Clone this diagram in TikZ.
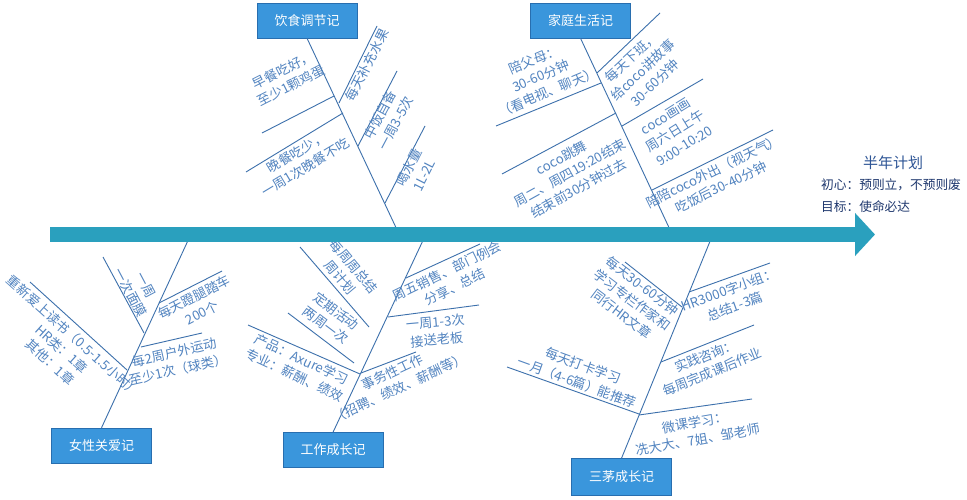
\documentclass[tikz,border=0pt]{standalone}
\usepackage{fontspec}
\setmainfont{Noto Sans CJK SC}
\usepackage{xcolor}
\usepackage{tikz}
\usetikzlibrary{arrows.meta}

\definecolor{boxblue}{RGB}{58,150,220}
\definecolor{boxedge}{RGB}{40,110,175}
\definecolor{bonecol}{RGB}{60,112,172}
\definecolor{lblcol}{RGB}{82,132,192}
\definecolor{spinecol}{RGB}{42,160,190}
\definecolor{navy}{RGB}{31,56,110}
\definecolor{titlecol}{RGB}{46,85,150}

\tikzset{
  box/.style={draw=boxedge, fill=boxblue, text=white, minimum width=100pt,
    minimum height=35pt, inner sep=0pt, font=\fontsize{13}{15}\selectfont},
  bone/.style={draw=bonecol, line width=0.9pt},
  twig/.style={draw=bonecol, line width=0.9pt},
  lbl/.style={text=lblcol, align=center, inner sep=0pt, font=\fontsize{13.2}{17.5}\selectfont},
  spine/.style={draw=spinecol, line width=15pt, -{Triangle[length=20pt, width=42pt]}},
  note/.style={text=navy, inner sep=0pt, font=\fontsize{12.7}{15}\selectfont},
}

\begin{document}
\begin{tikzpicture}[x=1pt, y=-1pt]
            \path[use as bounding box, fill=white] (0,0) rectangle (967,500);
            % heads of the bones
            \node[box] (food) at (307,20.5) {饮食调节记};
            \node[box] (home) at (580.5,20.5) {家庭生活记};
            \node[box] (women) at (101.5,445.5) {女性关爱记};
            \node[box] (work) at (333,450) {工作成长记};
            \node[box, minimum height=37pt] (sanmao) at (621.5,477) {三茅成长记};
            \coordinate (foodend) at (399,234);
            \coordinate (homeend) at (672,234);
            \coordinate (womenend) at (191,234);
            \coordinate (workend) at (426,234);
            \coordinate (sanmaoend) at (713,234);
            \draw[bone] (food.south) -- (foodend);
            \draw[bone] (home.south) -- (homeend);
            \draw[bone] (women.north) -- (womenend);
            \draw[bone] (work.north) -- (workend);
            \draw[bone] (sanmao.north) -- (sanmaoend);
            % small bones
            \coordinate (f1-o) at (262,133);  \coordinate (f1-i) at (334,96);
            \coordinate (f2-o) at (246,172);  \coordinate (f2-i) at (343,113);
            \coordinate (f3-o) at (377,26);   \coordinate (f3-i) at (339,103);
            \coordinate (f4-o) at (397,71);   \coordinate (f4-i) at (358,146);
            \coordinate (f5-o) at (425,126);  \coordinate (f5-i) at (385,203);
            \coordinate (h1-o) at (496,126);  \coordinate (h1-i) at (601,83);
            \coordinate (h2-o) at (502,174);  \coordinate (h2-i) at (616,113);
            \coordinate (h3-o) at (660,13);   \coordinate (h3-i) at (597,73);
            \coordinate (h4-o) at (703,79);   \coordinate (h4-i) at (622,126);
            \coordinate (h5-o) at (773,130);  \coordinate (h5-i) at (652,190);
            \coordinate (w1-o) at (30,282);   \coordinate (w1-i) at (127,370);
            \coordinate (w2-o) at (103,257);  \coordinate (w2-i) at (144,333);
            \coordinate (w3-o) at (222,271);  \coordinate (w3-i) at (159,303);
            \coordinate (w4-o) at (202,333);  \coordinate (w4-i) at (141,347);
            \coordinate (k1-o) at (300,247);  \coordinate (k1-i) at (369,327);
            \coordinate (k2-o) at (288,313);  \coordinate (k2-i) at (354,363);
            \coordinate (k3-o) at (248,325);  \coordinate (k3-i) at (360,374);
            \coordinate (k4-o) at (480,244);  \coordinate (k4-i) at (406,278);
            \coordinate (k5-o) at (479,305);  \coordinate (k5-i) at (388,317);
            \coordinate (k6-o) at (416,352);  \coordinate (k6-i) at (361,373);
            \coordinate (s1-o) at (625,262);  \coordinate (s1-i) at (682,307);
            \coordinate (s2-o) at (507,367);  \coordinate (s2-i) at (639,414);
            \coordinate (s3-o) at (770,263);  \coordinate (s3-i) at (689,292);
            \coordinate (s4-o) at (754,325);  \coordinate (s4-i) at (661,362);
            \coordinate (s5-o) at (752,399);  \coordinate (s5-i) at (639,415);
            \foreach \t in {f1,f2,f3,f4,f5,h1,h2,h3,h4,h5,w1,w2,w3,w4,k1,k2,k3,k4,k5,k6,s1,s2,s3,s4,s5}
                \draw[twig] (\t-o) -- (\t-i);
            % labels
            \node[lbl, rotate=27] (f1) at (287,78) {早餐吃好，\\至少1颗鸡蛋};
            \node[lbl, rotate=31] (f2) at (301,160) {晚餐吃少，\\一周1次晚餐不吃};
            \node[lbl, rotate=63] (f3) at (367,65) {每天补充水果};
            \node[lbl, rotate=62] (f4) at (388,119) {中饭自备\\一周3-5次};
            \node[lbl, rotate=63] (f5) at (416,171) {喝水量\\1L-2L};
            \node[lbl, rotate=23] (h1) at (541,76) {陪父母：\\30-60分钟\\（看电视、聊天）};
            \node[lbl, rotate=29] (h2) at (570,173) {coco跳舞\\周二、周四19:20结束\\结束前30分钟过去};
            \node[lbl, rotate=43] (h3) at (643,70) {每天下班，\\给coco讲故事\\30-60分钟};
            \node[lbl, rotate=32] (h4) at (675,131) {coco画画\\周六日上午\\9:00-10:20};
            \node[lbl, rotate=26] (h5) at (717,179) {陪陪coco外出（视天气）\\吃饭后30-40分钟};
            \node[lbl, rotate=-42] (w1) at (62,349) {重新爱上读书（0.5-1.5小时）\\HR类：1章\\其他：1章};
            \node[lbl, rotate=-62] (w2) at (138,289) {一周\\一次面膜};
            \node[lbl, rotate=27] (w3) at (198,305) {每天蹬腿踏车\\200个};
            \node[lbl, rotate=13] (w4) at (176,361) {每2周户外运动\\至少1次（球类）};
            \node[lbl, rotate=-50] (k1) at (347,272) {每周周总结\\周计划};
            \node[lbl, rotate=-37] (k2) at (331,318) {定期活动\\两周一次};
            \node[lbl, rotate=-25] (k3) at (298,367) {产品：Axure学习\\专业：薪酬、绩效};
            \node[lbl, rotate=26] (k4) at (451,279) {周五销售、部门例会\\分享、总结};
            \node[lbl, rotate=5] (k5) at (436,331) {一周1-3次\\接送老板};
            \node[lbl, rotate=25] (k6) at (396,380) {事务性工作\\（招聘、绩效、薪酬等）};
            \node[lbl, rotate=-37] (s1) at (632,300) {每天30-60分钟\\学习专栏作家和\\同行HR文章};
            \node[lbl, rotate=-20] (s2) at (580,374) {每天打卡学习\\一月（4-6篇）能推荐};
            \node[lbl, rotate=20] (s3) at (732,298) {HR3000字小组：\\总结1-3篇};
            \node[lbl, rotate=22] (s4) at (709,364) {实践咨询：\\每周完成课后作业};
            \node[lbl, rotate=10] (s5) at (696,431) {微课学习：\\冼大大、7姐、邹老师};
            % backbone and goal
            \coordinate (tail) at (50,234.5);
            \coordinate (head) at (875,234.5);
            \draw[spine] (tail) -- (head);
            \node[note, text=titlecol, font=\fontsize{15}{17}\selectfont] (plan) at (893,163) {半年计划};
            \node[note, anchor=west] (aim) at (821,185) {初心：预则立，不预则废};
            \node[note, anchor=west] (goal) at (821,207) {目标：使命必达};
        \end{tikzpicture}
\end{document}
